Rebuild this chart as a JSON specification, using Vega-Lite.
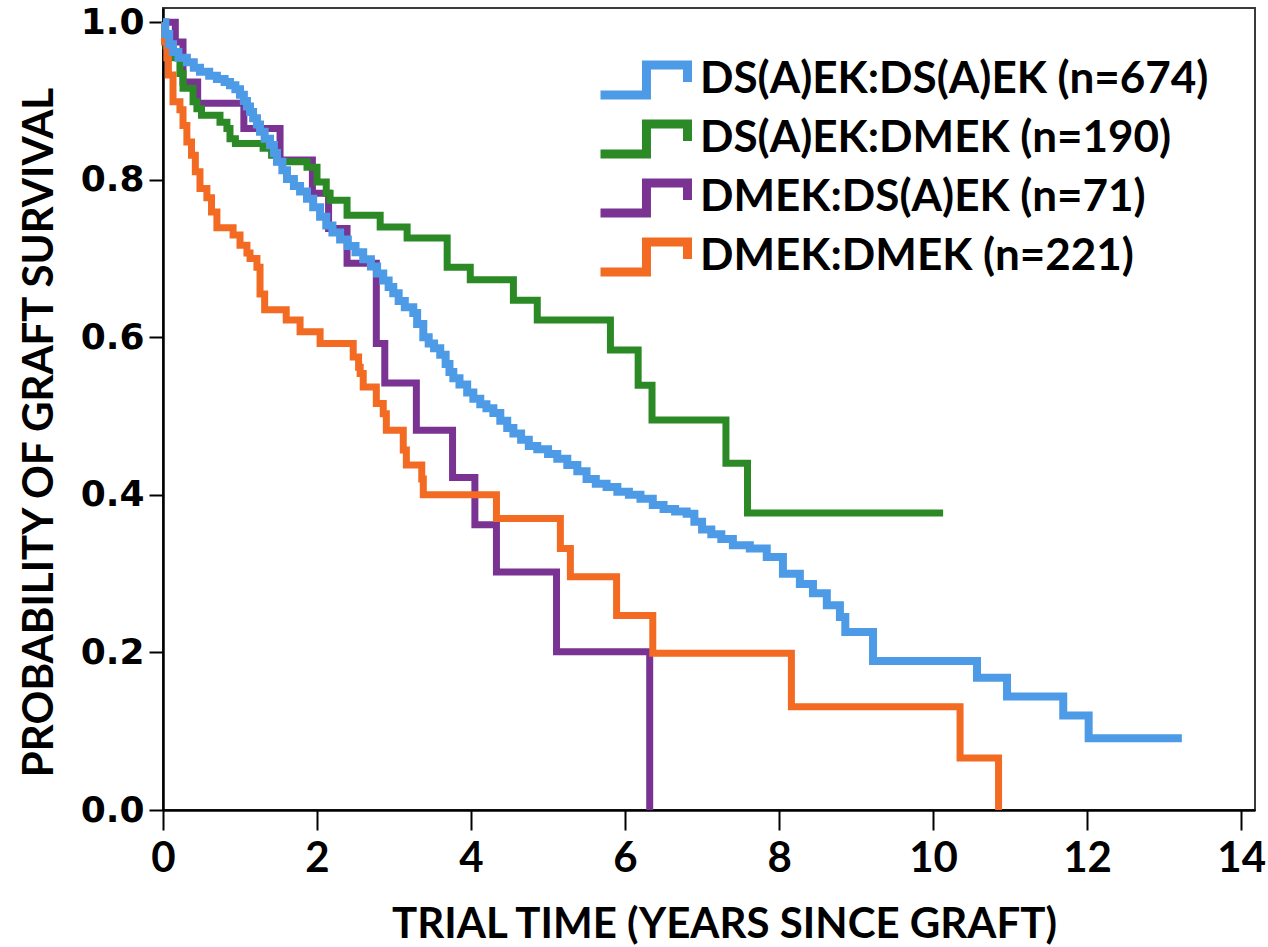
{
  "$schema": "https://vega.github.io/schema/vega-lite/v6.json",
  "autosize": {"type": "none"},
  "padding": {"left": 163, "top": 8, "right": 13, "bottom": 137},
  "width": 1092,
  "height": 802,
  "background": "white",
  "config": {
    "view": {"stroke": "#3a3a3a", "strokeWidth": 2},
    "axis": {"grid": false}
  },
  "data": {
    "values": [
      {"group": "DMEK:DS(A)EK (n=71)", "t": 0, "s": 1.0},
      {"group": "DMEK:DS(A)EK (n=71)", "t": 0.16, "s": 0.975},
      {"group": "DMEK:DS(A)EK (n=71)", "t": 0.26, "s": 0.924},
      {"group": "DMEK:DS(A)EK (n=71)", "t": 0.45, "s": 0.897},
      {"group": "DMEK:DS(A)EK (n=71)", "t": 1.05, "s": 0.865},
      {"group": "DMEK:DS(A)EK (n=71)", "t": 1.52, "s": 0.825},
      {"group": "DMEK:DS(A)EK (n=71)", "t": 1.94, "s": 0.783},
      {"group": "DMEK:DS(A)EK (n=71)", "t": 2.15, "s": 0.738},
      {"group": "DMEK:DS(A)EK (n=71)", "t": 2.39, "s": 0.694},
      {"group": "DMEK:DS(A)EK (n=71)", "t": 2.77, "s": 0.592},
      {"group": "DMEK:DS(A)EK (n=71)", "t": 2.88, "s": 0.542},
      {"group": "DMEK:DS(A)EK (n=71)", "t": 3.29, "s": 0.482},
      {"group": "DMEK:DS(A)EK (n=71)", "t": 3.76, "s": 0.422},
      {"group": "DMEK:DS(A)EK (n=71)", "t": 4.05, "s": 0.362},
      {"group": "DMEK:DS(A)EK (n=71)", "t": 4.33, "s": 0.302},
      {"group": "DMEK:DS(A)EK (n=71)", "t": 5.11, "s": 0.201},
      {"group": "DMEK:DS(A)EK (n=71)", "t": 6.32, "s": 0.0},

      {"group": "DS(A)EK:DMEK (n=190)", "t": 0, "s": 1.0},
      {"group": "DS(A)EK:DMEK (n=190)", "t": 0.02, "s": 0.985},
      {"group": "DS(A)EK:DMEK (n=190)", "t": 0.04, "s": 0.97},
      {"group": "DS(A)EK:DMEK (n=190)", "t": 0.06, "s": 0.955},
      {"group": "DS(A)EK:DMEK (n=190)", "t": 0.22, "s": 0.935},
      {"group": "DS(A)EK:DMEK (n=190)", "t": 0.26, "s": 0.916},
      {"group": "DS(A)EK:DMEK (n=190)", "t": 0.39, "s": 0.899},
      {"group": "DS(A)EK:DMEK (n=190)", "t": 0.44, "s": 0.89},
      {"group": "DS(A)EK:DMEK (n=190)", "t": 0.5, "s": 0.882},
      {"group": "DS(A)EK:DMEK (n=190)", "t": 0.74, "s": 0.873},
      {"group": "DS(A)EK:DMEK (n=190)", "t": 0.83, "s": 0.865},
      {"group": "DS(A)EK:DMEK (n=190)", "t": 0.87, "s": 0.852},
      {"group": "DS(A)EK:DMEK (n=190)", "t": 0.94, "s": 0.846},
      {"group": "DS(A)EK:DMEK (n=190)", "t": 1.3, "s": 0.84},
      {"group": "DS(A)EK:DMEK (n=190)", "t": 1.41, "s": 0.831},
      {"group": "DS(A)EK:DMEK (n=190)", "t": 1.48, "s": 0.823},
      {"group": "DS(A)EK:DMEK (n=190)", "t": 1.87, "s": 0.816},
      {"group": "DS(A)EK:DMEK (n=190)", "t": 2.0, "s": 0.797},
      {"group": "DS(A)EK:DMEK (n=190)", "t": 2.12, "s": 0.783},
      {"group": "DS(A)EK:DMEK (n=190)", "t": 2.17, "s": 0.774},
      {"group": "DS(A)EK:DMEK (n=190)", "t": 2.39, "s": 0.755},
      {"group": "DS(A)EK:DMEK (n=190)", "t": 2.82, "s": 0.74},
      {"group": "DS(A)EK:DMEK (n=190)", "t": 3.17, "s": 0.726},
      {"group": "DS(A)EK:DMEK (n=190)", "t": 3.69, "s": 0.689},
      {"group": "DS(A)EK:DMEK (n=190)", "t": 3.99, "s": 0.673},
      {"group": "DS(A)EK:DMEK (n=190)", "t": 4.55, "s": 0.647},
      {"group": "DS(A)EK:DMEK (n=190)", "t": 4.86, "s": 0.622},
      {"group": "DS(A)EK:DMEK (n=190)", "t": 5.81, "s": 0.584},
      {"group": "DS(A)EK:DMEK (n=190)", "t": 6.17, "s": 0.539},
      {"group": "DS(A)EK:DMEK (n=190)", "t": 6.35, "s": 0.495},
      {"group": "DS(A)EK:DMEK (n=190)", "t": 7.31, "s": 0.44},
      {"group": "DS(A)EK:DMEK (n=190)", "t": 7.59, "s": 0.377},
      {"group": "DS(A)EK:DMEK (n=190)", "t": 10.13, "s": 0.377},

      {"group": "DMEK:DMEK (n=221)", "t": 0, "s": 1.0},
      {"group": "DMEK:DMEK (n=221)", "t": 0.02, "s": 0.975},
      {"group": "DMEK:DMEK (n=221)", "t": 0.05, "s": 0.955},
      {"group": "DMEK:DMEK (n=221)", "t": 0.07, "s": 0.933},
      {"group": "DMEK:DMEK (n=221)", "t": 0.13, "s": 0.899},
      {"group": "DMEK:DMEK (n=221)", "t": 0.22, "s": 0.889},
      {"group": "DMEK:DMEK (n=221)", "t": 0.26, "s": 0.869},
      {"group": "DMEK:DMEK (n=221)", "t": 0.31, "s": 0.848},
      {"group": "DMEK:DMEK (n=221)", "t": 0.37, "s": 0.831},
      {"group": "DMEK:DMEK (n=221)", "t": 0.42, "s": 0.81},
      {"group": "DMEK:DMEK (n=221)", "t": 0.48, "s": 0.789},
      {"group": "DMEK:DMEK (n=221)", "t": 0.57, "s": 0.777},
      {"group": "DMEK:DMEK (n=221)", "t": 0.63, "s": 0.759},
      {"group": "DMEK:DMEK (n=221)", "t": 0.7, "s": 0.739},
      {"group": "DMEK:DMEK (n=221)", "t": 0.91, "s": 0.73},
      {"group": "DMEK:DMEK (n=221)", "t": 1.0, "s": 0.717},
      {"group": "DMEK:DMEK (n=221)", "t": 1.09, "s": 0.707},
      {"group": "DMEK:DMEK (n=221)", "t": 1.13, "s": 0.7},
      {"group": "DMEK:DMEK (n=221)", "t": 1.22, "s": 0.689},
      {"group": "DMEK:DMEK (n=221)", "t": 1.26, "s": 0.655},
      {"group": "DMEK:DMEK (n=221)", "t": 1.32, "s": 0.635},
      {"group": "DMEK:DMEK (n=221)", "t": 1.6, "s": 0.622},
      {"group": "DMEK:DMEK (n=221)", "t": 1.78, "s": 0.607},
      {"group": "DMEK:DMEK (n=221)", "t": 2.04, "s": 0.592},
      {"group": "DMEK:DMEK (n=221)", "t": 2.47, "s": 0.575},
      {"group": "DMEK:DMEK (n=221)", "t": 2.54, "s": 0.562},
      {"group": "DMEK:DMEK (n=221)", "t": 2.56, "s": 0.554},
      {"group": "DMEK:DMEK (n=221)", "t": 2.6, "s": 0.537},
      {"group": "DMEK:DMEK (n=221)", "t": 2.77, "s": 0.516},
      {"group": "DMEK:DMEK (n=221)", "t": 2.86, "s": 0.503},
      {"group": "DMEK:DMEK (n=221)", "t": 2.9, "s": 0.482},
      {"group": "DMEK:DMEK (n=221)", "t": 3.12, "s": 0.457},
      {"group": "DMEK:DMEK (n=221)", "t": 3.16, "s": 0.438},
      {"group": "DMEK:DMEK (n=221)", "t": 3.36, "s": 0.42},
      {"group": "DMEK:DMEK (n=221)", "t": 3.38, "s": 0.4},
      {"group": "DMEK:DMEK (n=221)", "t": 4.33, "s": 0.37},
      {"group": "DMEK:DMEK (n=221)", "t": 5.16, "s": 0.332},
      {"group": "DMEK:DMEK (n=221)", "t": 5.29, "s": 0.296},
      {"group": "DMEK:DMEK (n=221)", "t": 5.89, "s": 0.247},
      {"group": "DMEK:DMEK (n=221)", "t": 6.36, "s": 0.199},
      {"group": "DMEK:DMEK (n=221)", "t": 8.16, "s": 0.131},
      {"group": "DMEK:DMEK (n=221)", "t": 10.35, "s": 0.066},
      {"group": "DMEK:DMEK (n=221)", "t": 10.85, "s": 0.0},

      {"group": "DS(A)EK:DS(A)EK (n=674)", "t": 0, "s": 1.0},
      {"group": "DS(A)EK:DS(A)EK (n=674)", "t": 0.03, "s": 0.985},
      {"group": "DS(A)EK:DS(A)EK (n=674)", "t": 0.08, "s": 0.972},
      {"group": "DS(A)EK:DS(A)EK (n=674)", "t": 0.13, "s": 0.962},
      {"group": "DS(A)EK:DS(A)EK (n=674)", "t": 0.2, "s": 0.955},
      {"group": "DS(A)EK:DS(A)EK (n=674)", "t": 0.31, "s": 0.949},
      {"group": "DS(A)EK:DS(A)EK (n=674)", "t": 0.4, "s": 0.942},
      {"group": "DS(A)EK:DS(A)EK (n=674)", "t": 0.48, "s": 0.937},
      {"group": "DS(A)EK:DS(A)EK (n=674)", "t": 0.6, "s": 0.932},
      {"group": "DS(A)EK:DS(A)EK (n=674)", "t": 0.7, "s": 0.928},
      {"group": "DS(A)EK:DS(A)EK (n=674)", "t": 0.8, "s": 0.924},
      {"group": "DS(A)EK:DS(A)EK (n=674)", "t": 0.87, "s": 0.92},
      {"group": "DS(A)EK:DS(A)EK (n=674)", "t": 0.94, "s": 0.915},
      {"group": "DS(A)EK:DS(A)EK (n=674)", "t": 1.0, "s": 0.908},
      {"group": "DS(A)EK:DS(A)EK (n=674)", "t": 1.05, "s": 0.9},
      {"group": "DS(A)EK:DS(A)EK (n=674)", "t": 1.09, "s": 0.893},
      {"group": "DS(A)EK:DS(A)EK (n=674)", "t": 1.13, "s": 0.886},
      {"group": "DS(A)EK:DS(A)EK (n=674)", "t": 1.17, "s": 0.878},
      {"group": "DS(A)EK:DS(A)EK (n=674)", "t": 1.22, "s": 0.87},
      {"group": "DS(A)EK:DS(A)EK (n=674)", "t": 1.26, "s": 0.861},
      {"group": "DS(A)EK:DS(A)EK (n=674)", "t": 1.32, "s": 0.852},
      {"group": "DS(A)EK:DS(A)EK (n=674)", "t": 1.39, "s": 0.844},
      {"group": "DS(A)EK:DS(A)EK (n=674)", "t": 1.44, "s": 0.834},
      {"group": "DS(A)EK:DS(A)EK (n=674)", "t": 1.48, "s": 0.823},
      {"group": "DS(A)EK:DS(A)EK (n=674)", "t": 1.55, "s": 0.812},
      {"group": "DS(A)EK:DS(A)EK (n=674)", "t": 1.61, "s": 0.801},
      {"group": "DS(A)EK:DS(A)EK (n=674)", "t": 1.7, "s": 0.792},
      {"group": "DS(A)EK:DS(A)EK (n=674)", "t": 1.78, "s": 0.785},
      {"group": "DS(A)EK:DS(A)EK (n=674)", "t": 1.87, "s": 0.776},
      {"group": "DS(A)EK:DS(A)EK (n=674)", "t": 1.95, "s": 0.765},
      {"group": "DS(A)EK:DS(A)EK (n=674)", "t": 2.04, "s": 0.753},
      {"group": "DS(A)EK:DS(A)EK (n=674)", "t": 2.12, "s": 0.742},
      {"group": "DS(A)EK:DS(A)EK (n=674)", "t": 2.2, "s": 0.733},
      {"group": "DS(A)EK:DS(A)EK (n=674)", "t": 2.3, "s": 0.724},
      {"group": "DS(A)EK:DS(A)EK (n=674)", "t": 2.4, "s": 0.716},
      {"group": "DS(A)EK:DS(A)EK (n=674)", "t": 2.5, "s": 0.708},
      {"group": "DS(A)EK:DS(A)EK (n=674)", "t": 2.6, "s": 0.699},
      {"group": "DS(A)EK:DS(A)EK (n=674)", "t": 2.7, "s": 0.69},
      {"group": "DS(A)EK:DS(A)EK (n=674)", "t": 2.78, "s": 0.681},
      {"group": "DS(A)EK:DS(A)EK (n=674)", "t": 2.86, "s": 0.672},
      {"group": "DS(A)EK:DS(A)EK (n=674)", "t": 2.93, "s": 0.664},
      {"group": "DS(A)EK:DS(A)EK (n=674)", "t": 2.99, "s": 0.656},
      {"group": "DS(A)EK:DS(A)EK (n=674)", "t": 3.06, "s": 0.646},
      {"group": "DS(A)EK:DS(A)EK (n=674)", "t": 3.14, "s": 0.638},
      {"group": "DS(A)EK:DS(A)EK (n=674)", "t": 3.25, "s": 0.631},
      {"group": "DS(A)EK:DS(A)EK (n=674)", "t": 3.3, "s": 0.617},
      {"group": "DS(A)EK:DS(A)EK (n=674)", "t": 3.38, "s": 0.6},
      {"group": "DS(A)EK:DS(A)EK (n=674)", "t": 3.45, "s": 0.592},
      {"group": "DS(A)EK:DS(A)EK (n=674)", "t": 3.52, "s": 0.586},
      {"group": "DS(A)EK:DS(A)EK (n=674)", "t": 3.6, "s": 0.578},
      {"group": "DS(A)EK:DS(A)EK (n=674)", "t": 3.67, "s": 0.566},
      {"group": "DS(A)EK:DS(A)EK (n=674)", "t": 3.72, "s": 0.556},
      {"group": "DS(A)EK:DS(A)EK (n=674)", "t": 3.77, "s": 0.548},
      {"group": "DS(A)EK:DS(A)EK (n=674)", "t": 3.85, "s": 0.54},
      {"group": "DS(A)EK:DS(A)EK (n=674)", "t": 3.95, "s": 0.53},
      {"group": "DS(A)EK:DS(A)EK (n=674)", "t": 4.03, "s": 0.522},
      {"group": "DS(A)EK:DS(A)EK (n=674)", "t": 4.12, "s": 0.515},
      {"group": "DS(A)EK:DS(A)EK (n=674)", "t": 4.2, "s": 0.51},
      {"group": "DS(A)EK:DS(A)EK (n=674)", "t": 4.29, "s": 0.504},
      {"group": "DS(A)EK:DS(A)EK (n=674)", "t": 4.38, "s": 0.494},
      {"group": "DS(A)EK:DS(A)EK (n=674)", "t": 4.47, "s": 0.485},
      {"group": "DS(A)EK:DS(A)EK (n=674)", "t": 4.55, "s": 0.478},
      {"group": "DS(A)EK:DS(A)EK (n=674)", "t": 4.65, "s": 0.47},
      {"group": "DS(A)EK:DS(A)EK (n=674)", "t": 4.75, "s": 0.462},
      {"group": "DS(A)EK:DS(A)EK (n=674)", "t": 4.86, "s": 0.458},
      {"group": "DS(A)EK:DS(A)EK (n=674)", "t": 5.0, "s": 0.452},
      {"group": "DS(A)EK:DS(A)EK (n=674)", "t": 5.12, "s": 0.446},
      {"group": "DS(A)EK:DS(A)EK (n=674)", "t": 5.25, "s": 0.438},
      {"group": "DS(A)EK:DS(A)EK (n=674)", "t": 5.38, "s": 0.43},
      {"group": "DS(A)EK:DS(A)EK (n=674)", "t": 5.5, "s": 0.42},
      {"group": "DS(A)EK:DS(A)EK (n=674)", "t": 5.62, "s": 0.414},
      {"group": "DS(A)EK:DS(A)EK (n=674)", "t": 5.76, "s": 0.41},
      {"group": "DS(A)EK:DS(A)EK (n=674)", "t": 5.9, "s": 0.404},
      {"group": "DS(A)EK:DS(A)EK (n=674)", "t": 6.05, "s": 0.4},
      {"group": "DS(A)EK:DS(A)EK (n=674)", "t": 6.2, "s": 0.395},
      {"group": "DS(A)EK:DS(A)EK (n=674)", "t": 6.36, "s": 0.387},
      {"group": "DS(A)EK:DS(A)EK (n=674)", "t": 6.5, "s": 0.382},
      {"group": "DS(A)EK:DS(A)EK (n=674)", "t": 6.65, "s": 0.379},
      {"group": "DS(A)EK:DS(A)EK (n=674)", "t": 6.8, "s": 0.376},
      {"group": "DS(A)EK:DS(A)EK (n=674)", "t": 6.9, "s": 0.366},
      {"group": "DS(A)EK:DS(A)EK (n=674)", "t": 7.0, "s": 0.356},
      {"group": "DS(A)EK:DS(A)EK (n=674)", "t": 7.12, "s": 0.35},
      {"group": "DS(A)EK:DS(A)EK (n=674)", "t": 7.25, "s": 0.344},
      {"group": "DS(A)EK:DS(A)EK (n=674)", "t": 7.4, "s": 0.336},
      {"group": "DS(A)EK:DS(A)EK (n=674)", "t": 7.62, "s": 0.332},
      {"group": "DS(A)EK:DS(A)EK (n=674)", "t": 7.84, "s": 0.321},
      {"group": "DS(A)EK:DS(A)EK (n=674)", "t": 8.05, "s": 0.3},
      {"group": "DS(A)EK:DS(A)EK (n=674)", "t": 8.27, "s": 0.287},
      {"group": "DS(A)EK:DS(A)EK (n=674)", "t": 8.44, "s": 0.275},
      {"group": "DS(A)EK:DS(A)EK (n=674)", "t": 8.62, "s": 0.26},
      {"group": "DS(A)EK:DS(A)EK (n=674)", "t": 8.79, "s": 0.245},
      {"group": "DS(A)EK:DS(A)EK (n=674)", "t": 8.86, "s": 0.226},
      {"group": "DS(A)EK:DS(A)EK (n=674)", "t": 9.22, "s": 0.189},
      {"group": "DS(A)EK:DS(A)EK (n=674)", "t": 10.57, "s": 0.168},
      {"group": "DS(A)EK:DS(A)EK (n=674)", "t": 10.96, "s": 0.144},
      {"group": "DS(A)EK:DS(A)EK (n=674)", "t": 11.69, "s": 0.12},
      {"group": "DS(A)EK:DS(A)EK (n=674)", "t": 12.02, "s": 0.091},
      {"group": "DS(A)EK:DS(A)EK (n=674)", "t": 13.23, "s": 0.091}
    ]
  },
  "encoding": {
    "x": {
      "field": "t",
      "type": "quantitative",
      "scale": {"domain": [0, 14.18], "nice": false, "zero": false},
      "axis": {
        "values": [0, 2, 4, 6, 8, 10, 12, 14],
        "format": "d",
        "title": "TRIAL TIME (YEARS SINCE GRAFT)",
        "titleFont": "Lato",
        "titleFontSize": 42,
        "titleFontWeight": "bold",
        "titleColor": "black",
        "titleAnchor": "start",
        "titleAlign": "center",
        "titleX": 561,
        "titleY": 127,
        "titleBaseline": "alphabetic",
        "labelFont": "Lato",
        "labelFontSize": 42,
        "labelFontWeight": "bold",
        "labelColor": "black",
        "labelPadding": 8,
        "labelFlush": false,
        "labelOverlap": false,
        "tickSize": 20,
        "tickWidth": 2,
        "tickColor": "black",
        "domainColor": "black",
        "domainWidth": 2.5
      }
    },
    "y": {
      "field": "s",
      "type": "quantitative",
      "scale": {"domain": [0, 1.018], "nice": false, "zero": false},
      "axis": {
        "values": [0, 0.2, 0.4, 0.6, 0.8, 1.0],
        "format": ".1f",
        "title": "PROBABILITY OF GRAFT SURVIVAL",
        "titleFont": "Lato",
        "titleFontSize": 42,
        "titleFontWeight": "bold",
        "titleColor": "black",
        "titleAnchor": "start",
        "titleAlign": "center",
        "titleAngle": -90,
        "titleX": -111,
        "titleY": 424,
        "titleBaseline": "alphabetic",
        "labelFont": "DejaVu Sans",
        "labelFontSize": 36,
        "labelFontWeight": "bold",
        "labelColor": "black",
        "labelPadding": 5,
        "labelFlush": false,
        "labelOverlap": false,
        "tickSize": 14,
        "tickWidth": 2,
        "tickColor": "black",
        "domainColor": "black",
        "domainWidth": 2.5
      }
    },
    "color": {
      "field": "group",
      "type": "nominal",
      "scale": {
        "domain": ["DS(A)EK:DS(A)EK (n=674)", "DS(A)EK:DMEK (n=190)", "DMEK:DS(A)EK (n=71)", "DMEK:DMEK (n=221)"],
        "range": ["#4d9be6", "#2b8a25", "#7a3393", "#f36a23"]
      },
      "legend": {
        "orient": "none",
        "legendX": 430,
        "legendY": 50,
        "title": null,
        "padding": 0,
        "symbolType": "M-1,1.03H2.17V-1.03H5V0.14",
        "symbolSize": 841,
        "symbolStrokeWidth": 9,
        "symbolFillColor": "transparent",
        "labelFont": "Lato",
        "labelFontSize": 44,
        "labelFontWeight": "bold",
        "labelColor": "black",
        "labelOffset": 63,
        "labelLimit": 0,
        "rowPadding": -7,
        "encode": {
          "symbols": {"update": {"strokeWidth": {"value": 9}, "fill": {"value": "transparent"}}}
        }
      }
    }
  },
  "layer": [
    {
      "transform": [{"filter": "datum.group === 'DMEK:DS(A)EK (n=71)'"}],
      "mark": {"type": "line", "interpolate": "step-after", "strokeWidth": 7, "strokeJoin": "miter", "strokeCap": "butt"}
    },
    {
      "transform": [{"filter": "datum.group === 'DS(A)EK:DMEK (n=190)'"}],
      "mark": {"type": "line", "interpolate": "step-after", "strokeWidth": 7, "strokeJoin": "miter", "strokeCap": "butt"}
    },
    {
      "transform": [{"filter": "datum.group === 'DMEK:DMEK (n=221)'"}],
      "mark": {"type": "line", "interpolate": "step-after", "strokeWidth": 7, "strokeJoin": "miter", "strokeCap": "butt"}
    },
    {
      "transform": [{"filter": "datum.group === 'DS(A)EK:DS(A)EK (n=674)'"}],
      "mark": {"type": "line", "interpolate": "step-after", "strokeWidth": 8, "strokeJoin": "miter", "strokeCap": "butt"}
    }
  ]
}
